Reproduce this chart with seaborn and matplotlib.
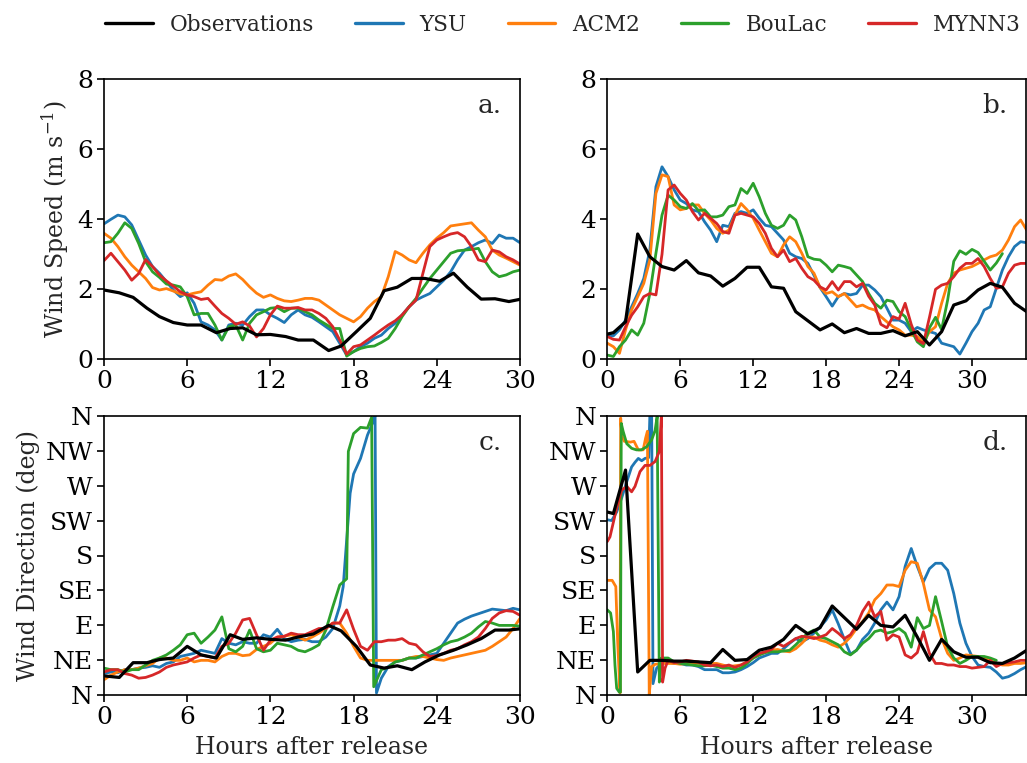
import numpy as np
import pandas as pd
import matplotlib
matplotlib.use("Agg")
import matplotlib.pyplot as plt
from matplotlib.lines import Line2D
import seaborn as sns

# ---------------------------------------------------------------------------
# Runs and colours
# ---------------------------------------------------------------------------
RUNS = ["Observations", "YSU", "ACM2", "BouLac", "MYNN3"]
COLORS = {"Observations": "black", "YSU": "#1f77b4", "ACM2": "#ff7f0e",
          "BouLac": "#2ca02c", "MYNN3": "#d62728"}
MODELS = RUNS[1:]

DIR_TICKS = [0, 45, 90, 135, 180, 225, 270, 315, 360]
DIR_LABELS = ["N", "NE", "E", "SE", "S", "SW", "W", "NW", "N"]
HOUR_TICKS = [0, 6, 12, 18, 24, 30]


def half_hours(start, stop):
    return list(np.arange(start, stop + 0.25, 0.5))


# ---------------------------------------------------------------------------
# Case 1: wind speed (m/s)
# ---------------------------------------------------------------------------
obs_hours_1 = [0, 1.1, 2.1, 3.1, 4.0, 5.0, 6.0, 7.0, 8.1, 9.1, 10.0, 11.0, 12.0,
               13.1, 14.0, 15.1, 16.2, 17.1, 18.2, 19.2, 20.2, 21.15, 22.2,
               23.15, 24.2, 25.2, 26.2, 27.2, 28.2, 29.2, 30.2]
obs_speed_1 = [1.98, 1.90, 1.77, 1.46, 1.22, 1.05, 0.98, 0.98, 0.76, 0.88, 0.90,
               0.70, 0.71, 0.65, 0.55, 0.55, 0.25, 0.38, 0.79, 1.17, 1.96, 2.06,
               2.31, 2.31, 2.23, 2.46, 2.06, 1.72, 1.73, 1.65, 1.73]

model_hours_1 = half_hours(0, 30)
ysu_speed_1 = [3.87, 4.00, 4.12, 4.07, 3.84, 3.41, 2.98, 2.65, 2.46, 2.22,
               1.98, 1.79, 1.90, 1.60, 1.07, 0.98, 0.84, 0.55, 0.98, 1.03,
               0.98, 1.22, 1.41, 1.41, 1.27, 1.17, 1.05, 1.27, 1.41, 1.27,
               1.20, 1.07, 0.93, 0.79, 0.46, 0.12, 0.22, 0.36, 0.46, 0.60,
               0.69, 0.88, 1.03, 1.27, 1.50, 1.69, 1.79, 1.88, 2.07, 2.26,
               2.50, 2.84, 3.12, 3.22, 3.33, 3.41, 3.31, 3.55, 3.46, 3.46,
               3.33]
acm2_speed_1 = [3.60, 3.46, 3.22, 2.93, 2.69, 2.50, 2.31, 2.05, 1.98, 2.02,
                1.95, 1.87, 1.84, 1.89, 1.93, 2.12, 2.28, 2.26, 2.38, 2.44,
                2.28, 2.07, 1.89, 1.77, 1.84, 1.74, 1.67, 1.65, 1.69, 1.74,
                1.74, 1.69, 1.55, 1.41, 1.27, 1.17, 1.07, 1.22, 1.46, 1.65,
                1.79, 2.36, 3.08, 2.98, 2.84, 2.76, 3.03, 3.27, 3.46, 3.62,
                3.81, 3.84, 3.87, 3.90, 3.69, 3.50, 3.12, 2.98, 2.89, 2.79,
                2.69]
boulac_speed_1 = [3.33, 3.36, 3.60, 3.90, 3.74, 3.31, 2.79, 2.50, 2.34, 2.15,
                  2.12, 2.07, 1.79, 1.27, 1.31, 1.31, 0.98, 0.55, 0.93, 0.98,
                  0.55, 1.03, 1.27, 1.36, 1.46, 1.48, 1.36, 1.46, 1.46, 1.36,
                  1.27, 1.12, 1.00, 0.88, 0.88, 0.09, 0.22, 0.31, 0.36, 0.38,
                  0.48, 0.60, 0.88, 1.22, 1.50, 1.74, 2.03, 2.31, 2.55, 2.79,
                  3.03, 3.10, 3.12, 3.14, 3.17, 2.79, 2.50, 2.36, 2.41, 2.50,
                  2.55]
mynn3_speed_1 = [2.82, 3.03, 2.79, 2.55, 2.26, 2.45, 2.85, 2.65, 2.41, 2.24,
                 2.09, 1.93, 1.84, 1.79, 1.71, 1.74, 1.52, 1.31, 1.17, 1.00,
                 1.07, 0.95, 0.64, 0.88, 1.27, 1.52, 1.46, 1.46, 1.48, 1.41,
                 1.41, 1.31, 1.17, 0.93, 0.55, 0.15, 0.36, 0.41, 0.55, 0.69,
                 0.84, 0.98, 1.10, 1.27, 1.50, 1.69, 2.46, 3.22, 3.41, 3.50,
                 3.58, 3.62, 3.50, 3.22, 2.84, 2.79, 3.12, 3.07, 2.93, 2.84,
                 2.72]

# ---------------------------------------------------------------------------
# Case 2: wind speed (m/s)
# ---------------------------------------------------------------------------
obs_hours_2 = [0, 0.5] + half_hours(1.5, 34.5)[::2]
obs_speed_2 = [0.72, 0.76, 1.07, 3.58, 2.93, 2.65, 2.55, 2.82, 2.47, 2.38,
               2.09, 2.31, 2.63, 2.63, 2.07, 2.03, 1.36, 1.10, 0.84, 1.01,
               0.76, 0.88, 0.74, 0.74, 0.82, 0.67, 0.79, 0.41, 0.79, 1.55,
               1.67, 1.98, 2.17, 2.06, 1.60, 1.36]

model_hours_2 = half_hours(0, 34.5)
ysu_speed_2 = [0.69, 0.67, 0.84, 1.12, 1.50, 1.88, 2.31, 3.12, 4.93, 5.50,
               5.22, 4.84, 4.55, 4.45, 4.27, 4.22, 3.93, 3.69, 3.36, 3.83,
               3.79, 4.17, 4.22, 4.17, 4.27, 4.03, 3.83, 3.79, 3.60, 3.41,
               3.03, 2.93, 2.88, 2.74, 2.40, 2.05, 1.79, 1.52, 1.79, 1.88,
               1.84, 1.88, 2.12, 2.12, 1.98, 1.79, 1.46, 1.12, 1.12, 1.03,
               0.79, 0.91, 0.84, 0.79, 0.74, 0.46, 0.41, 0.36, 0.15, 0.46,
               0.79, 1.03, 1.41, 1.50, 2.03, 2.55, 2.93, 3.22, 3.36, 3.33]
acm2_speed_2 = [0.46, 0.36, 0.17, 0.84, 1.41, 1.79, 2.17, 2.84, 4.74, 5.27,
                5.22, 4.41, 4.27, 4.31, 4.41, 4.41, 4.17, 3.98, 3.74, 3.60,
                3.69, 4.12, 4.45, 4.27, 4.03, 3.69, 3.36, 3.03, 2.93, 3.27,
                3.50, 3.36, 3.03, 2.65, 2.46, 2.05, 1.88, 1.93, 1.79, 1.88,
                1.69, 1.50, 1.55, 1.46, 1.41, 1.22, 1.07, 0.93, 0.84, 0.69,
                0.69, 0.65, 0.47, 0.79, 0.93, 1.60, 2.17, 2.46, 2.55, 2.60,
                2.65, 2.74, 2.84, 2.93, 2.98, 3.12, 3.41, 3.79, 3.98, 3.69]
boulac_speed_2 = [0.12, 0.08, 0.36, 0.55, 0.84, 0.69, 1.03, 1.88, 3.03, 4.12,
                  4.69, 4.55, 4.36, 4.31, 4.45, 4.25, 4.27, 4.07, 4.07, 4.12,
                  4.36, 4.41, 4.88, 4.74, 5.03, 4.64, 4.17, 3.83, 3.74, 3.83,
                  4.12, 3.98, 3.50, 2.93, 2.86, 2.84, 2.69, 2.50, 2.69, 2.65,
                  2.60, 2.41, 2.22, 1.88, 1.60, 1.46, 1.69, 1.65, 1.36, 1.22,
                  0.84, 0.50, 0.36, 0.90, 1.20, 0.85, 1.70, 2.80, 3.10, 3.00,
                  3.14, 3.05, 2.80, 2.55, 2.75, 3.02, np.nan, np.nan, np.nan,
                  np.nan]
mynn3_speed_2 = [0.65, 0.57, 0.55, 0.93, 1.26, 1.50, 1.79, 1.88, 1.84, 3.00,
                 4.84, 4.98, 4.74, 4.55, 4.22, 3.98, 4.17, 4.03, 3.88, 3.65,
                 3.60, 4.12, 4.17, 4.12, 4.07, 3.88, 3.60, 3.17, 2.93, 3.12,
                 2.79, 2.88, 2.60, 2.36, 2.26, 2.07, 1.98, 2.22, 1.98, 2.22,
                 2.22, 2.07, 2.17, 1.80, 1.55, 1.00, 0.90, 1.22, 1.15, 1.60,
                 1.00, 0.55, 0.45, 1.20, 2.00, 2.12, 2.17, 2.36, 2.60, 2.74,
                 2.74, 2.88, 2.65, 2.31, 2.03, 2.07, 2.46, 2.69, 2.74, 2.74]

# ---------------------------------------------------------------------------
# Case 1: wind direction (deg)
# ---------------------------------------------------------------------------
obs_dir_1 = [25, 23, 42, 42, 46, 48, 63, 52, 48, 78, 72, 74, 72, 71, 75, 79,
             90, 83, 63, 39, 35, 38, 33, 43, 52, 58, 65, 73, 84, 84, 86]

ysu_dir_hours_1 = half_hours(0, 17) + [17.25, 17.5, 17.75, 18.0, 18.5, 19.0,
                                       19.4, 19.55, 19.65] + half_hours(20, 30)
ysu_dir_1 = [28, 30, 29, 33, 33, 35, 36, 38, 36, 41, 43, 50, 52, 54, 58, 56,
             54, 73, 67, 65, 69, 67, 67, 78, 75, 85, 73, 69, 71, 72, 69, 69,
             75, 86, 115,
             140, 200, 260, 285, 305, 335, 352, 360, 3,
             22, 37, 43, 45, 48, 48, 50, 52, 54, 67, 80, 93, 98, 102, 105,
             108, 111, 110, 109, 112, 110]
acm2_dir_1 = [20, 26, 30, 33, 33, 35, 38, 41, 48, 48, 45, 45, 48, 43, 45, 45,
              43, 50, 54, 54, 51, 52, 59, 63, 67, 75, 76, 78, 75, 71, 75, 80,
              86, 93, 93, 80, 63, 48, 45, 45, 45, 45, 45, 45, 48, 50, 50, 48,
              46, 45, 48, 50, 52, 54, 56, 58, 63, 69, 75, 86, 99]
boulac_dir_hours_1 = half_hours(0, 17.5) + [17.62, 18.0, 18.5, 19.0, 19.3,
                                            19.45] + half_hours(20, 30)
boulac_dir_1 = [35, 33, 33, 30, 33, 33, 39, 45, 48, 52, 58, 65, 78, 80, 67,
                75, 84, 101, 60, 56, 63, 84, 60, 56, 58, 67, 65, 63, 58, 56,
                60, 65, 84, 114, 142, 150,
                314, 337, 345, 344, 358, 11,
                33, 36, 43, 45, 48, 48, 52, 56, 60, 65, 69, 71, 75, 80, 88,
                95, 93, 90, 90, 90, 89]
mynn3_dir_1 = [30, 33, 33, 28, 26, 22, 23, 26, 30, 36, 39, 41, 43, 48, 52, 50,
               48, 63, 67, 80, 97, 99, 78, 58, 71, 75, 76, 80, 78, 78, 82, 86,
               86, 93, 93, 110, 85, 63, 58, 69, 69, 71, 71, 73, 67, 65, 56,
               50, 51, 54, 58, 60, 65, 69, 75, 86, 99, 106, 109, 108, 103]

# ---------------------------------------------------------------------------
# Case 2: wind direction (deg)
# ---------------------------------------------------------------------------
obs_dir_2 = [236, 234, 290, 30, 45, 45, 44, 44, 43, 42, 59, 45, 46, 58, 62,
             72, 90, 79, 87, 115, 100, 85, 103, 90, 88, 103, 75, 45, 72, 56,
             49, 49, 42, 41, 48, 58]

late_hours_2 = half_hours(5, 34.5)
ysu_dir_hours_2 = [0, 0.36, 0.77, 1.18, 1.6, 2.0, 2.28, 2.55, 2.83, 3.1, 3.4,
                   3.5, 3.65, 3.76, 4.06, 4.5] + late_hours_2
ysu_dir_2 = [226, 225, 236, 254, 275, 294, 300, 305, 302, 305, 306, 360, 360,
             15, 35, 42,
             43, 41, 41, 39, 39, 37, 33, 33, 33, 29,
             29, 30, 33, 37, 42, 48, 51, 54, 54, 60,
             67, 73, 69, 73, 80, 88, 97, 110, 92, 72,
             53, 58, 72, 80, 93, 110, 120, 110, 127, 166,
             189, 166, 146, 163, 170, 170, 161, 131, 93, 67,
             50, 39, 37, 36, 30, 22, 24, 28, 33, 37]
acm2_dir_hours_2 = [0, 0.4, 0.7, 0.85, 1.05, 1.1, 1.2, 1.4, 1.9, 2.2, 2.55,
                    2.95, 3.15, 3.3, 3.45, 3.65, 3.95, 4.5] + late_hours_2
acm2_dir_2 = [148, 148, 140, 70, 3, 357, 334, 327, 326, 327, 316, 316, 331,
              340, 1, 37, 40, 41,
              41, 41, 40, 41, 42, 41, 40, 41, 41, 39,
              37, 38, 39, 43, 48, 52, 56, 58, 59, 57,
              56, 60, 67, 75, 75, 71, 69, 65, 62, 67,
              75, 86, 95, 106, 123, 131, 142, 142, 140, 161,
              172, 170, 144, 110, 101, 73, 54, 45, 48, 52,
              51, 50, 48, 45, 41, 39, 39, 41, 41, 42]
boulac_dir_hours_2 = [0, 0.27, 0.5, 0.63, 0.77, 0.99, 1.08, 1.15, 1.3, 1.6,
                      2.0, 2.4, 2.8, 3.24, 3.65, 3.93, 4.1, 4.28,
                      4.47] + late_hours_2
boulac_dir_2 = [110, 106, 82, 39, 9, 4, 4, 350, 340, 324, 318, 316, 316, 320,
                329, 341, 359, 17, 48,
                48, 43, 41, 40, 39, 38, 38, 39, 37, 35,
                35, 33, 35, 41, 48, 52, 55, 56, 56, 57,
                58, 65, 73, 80, 84, 75, 73, 69, 65, 56,
                52, 58, 67, 73, 82, 84, 80, 82, 86, 80,
                62, 100, 86, 90, 127, 95, 62, 48, 41, 45,
                50, 50, 50, 48, 45, np.nan, np.nan, np.nan, np.nan, np.nan]
mynn3_dir_hours_2 = [0, 0.22, 0.77, 1.18, 1.6, 2.0, 2.28, 2.69, 3.1, 3.51,
                     3.93, 4.28, 4.45, 4.55, 4.75] + late_hours_2
mynn3_dir_2 = [198, 204, 241, 264, 269, 262, 269, 288, 296, 296, 301, 314,
               360, 17, 35,
               45, 42, 43, 45, 44, 43, 39, 38, 39, 37,
               39, 36, 39, 43, 50, 54, 56, 59, 67, 63,
               68, 73, 76, 75, 73, 75, 78, 86, 80, 73,
               78, 90, 108, 120, 101, 108, 71, 78, 75, 52,
               48, 55, 82, 54, 41, 41, 39, 39, 37, 37,
               35, 36, 37, 45, 37, 41, 42, 43, 45, 45]

# ---------------------------------------------------------------------------
# Assemble long tables, one per panel
# ---------------------------------------------------------------------------
def panel_table(entries):
    frames = []
    for run, hours, values in entries:
        frames.append(pd.DataFrame({"hour": hours, "value": values, "run": run}))
    return pd.concat(frames, ignore_index=True)


panels = {
    "a": panel_table([
        ("Observations", obs_hours_1, obs_speed_1),
        ("YSU", model_hours_1, ysu_speed_1),
        ("ACM2", model_hours_1, acm2_speed_1),
        ("BouLac", model_hours_1, boulac_speed_1),
        ("MYNN3", model_hours_1, mynn3_speed_1)]),
    "b": panel_table([
        ("Observations", obs_hours_2, obs_speed_2),
        ("YSU", model_hours_2, ysu_speed_2),
        ("ACM2", model_hours_2, acm2_speed_2),
        ("BouLac", model_hours_2, boulac_speed_2),
        ("MYNN3", model_hours_2, mynn3_speed_2)]),
    "c": panel_table([
        ("Observations", obs_hours_1, obs_dir_1),
        ("YSU", ysu_dir_hours_1, ysu_dir_1),
        ("ACM2", model_hours_1, acm2_dir_1),
        ("BouLac", boulac_dir_hours_1, boulac_dir_1),
        ("MYNN3", model_hours_1, mynn3_dir_1)]),
    "d": panel_table([
        ("Observations", obs_hours_2, obs_dir_2),
        ("YSU", ysu_dir_hours_2, ysu_dir_2),
        ("ACM2", acm2_dir_hours_2, acm2_dir_2),
        ("BouLac", boulac_dir_hours_2, boulac_dir_2),
        ("MYNN3", mynn3_dir_hours_2, mynn3_dir_2)]),
}

# ---------------------------------------------------------------------------
# Figure
# ---------------------------------------------------------------------------
sns.set_theme(style="ticks")
plt.rcParams["font.family"] = ["DejaVu Serif"]
plt.rcParams["mathtext.fontset"] = "dejavuserif"
plt.rcParams["axes.edgecolor"] = "black"
plt.rcParams["xtick.color"] = "black"
plt.rcParams["ytick.color"] = "black"
plt.rcParams["axes.linewidth"] = 1.2
plt.rcParams["xtick.major.width"] = 1.2
plt.rcParams["ytick.major.width"] = 1.2
plt.rcParams["xtick.major.size"] = 5
plt.rcParams["ytick.major.size"] = 5

W, H = 1027, 763
fig = plt.figure(figsize=(W / 100, H / 100), dpi=100)


def px_axes(left, top, right, bottom):
    return fig.add_axes([left / W, 1 - bottom / H, (right - left) / W,
                         (bottom - top) / H])


axes = {
    "a": px_axes(104, 79.3, 520, 359.3),
    "b": px_axes(607.3, 79.3, 1025.5, 359.3),
    "c": px_axes(104, 415.7, 520, 695.3),
    "d": px_axes(607.3, 415.7, 1025.5, 695.3),
}
xmax = {"a": 30, "b": 34.4, "c": 30, "d": 34.4}

TICK_SIZE = 18
LABEL_SIZE = 17

for key, ax in axes.items():
    data = panels[key]
    sns.lineplot(data=data[data["run"] != "Observations"], x="hour", y="value",
                 hue="run", hue_order=MODELS,
                 palette=[COLORS[m] for m in MODELS], estimator=None,
                 linewidth=2.0, legend=False, ax=ax)
    sns.lineplot(data=data[data["run"] == "Observations"], x="hour", y="value",
                 color=COLORS["Observations"], estimator=None, linewidth=2.3,
                 legend=False, ax=ax, zorder=5)
    ax.set_xlim(0, xmax[key])
    ax.set_xticks(HOUR_TICKS)
    ax.tick_params(labelsize=TICK_SIZE, direction="out", pad=3)
    ax.set_xlabel("")
    ax.set_ylabel("")
    if key in ("a", "b"):
        ax.set_ylim(0, 8)
        ax.set_yticks([0, 2, 4, 6, 8])
    else:
        ax.set_ylim(0, 360)
        ax.set_yticks(DIR_TICKS)
        ax.set_yticklabels(DIR_LABELS)
        ax.set_xlabel("Hours after release", fontsize=LABEL_SIZE, labelpad=5)
    ax.text(0.957, 0.905, f"{key}.", transform=ax.transAxes, ha="right",
            va="center", fontsize=19)

axes["a"].set_ylabel("Wind Speed (m s$^{-1}$)", fontsize=LABEL_SIZE)
axes["c"].set_ylabel("Wind Direction (deg)", fontsize=LABEL_SIZE)

handles = [Line2D([], [], color=COLORS[r], linewidth=2.4) for r in RUNS]
fig.legend(handles, RUNS, loc="center", ncol=5, frameon=False, fontsize=15.5,
           bbox_to_anchor=(563 / W, 1 - 25 / H), handlelength=2.2,
           columnspacing=1.9)

fig.savefig("out.png", dpi=100)
